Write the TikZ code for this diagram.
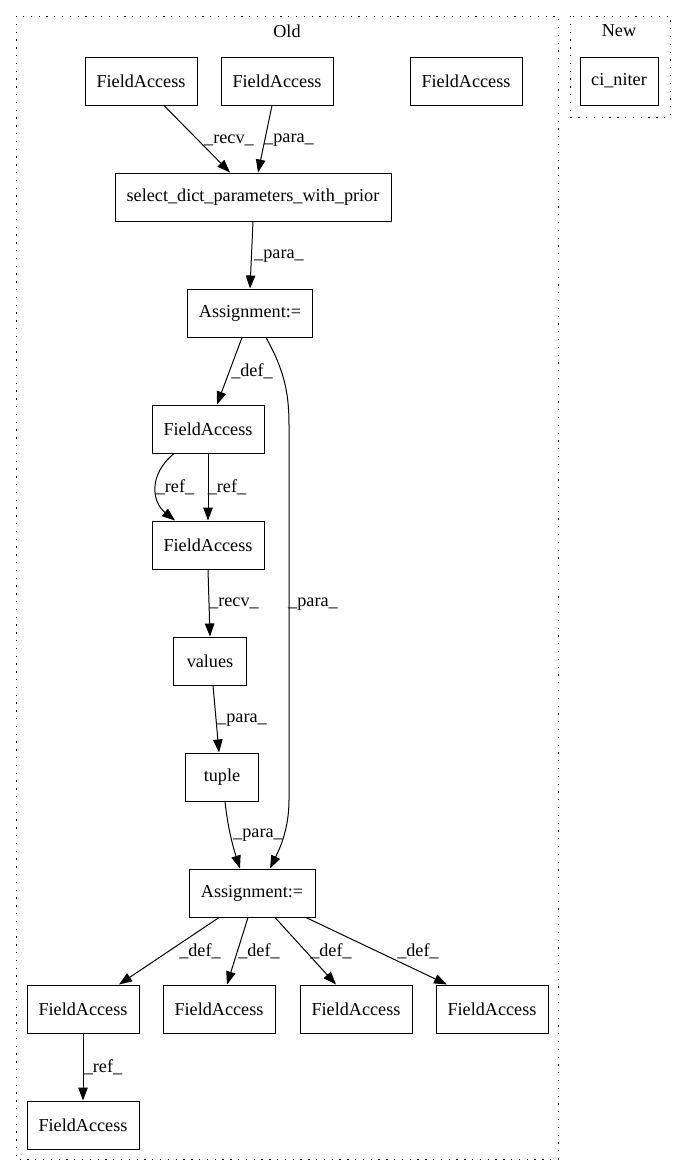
\documentclass[tikz,border=0pt]{standalone}
\usepackage{fontspec}
\setmainfont{Liberation Serif}
\usetikzlibrary{arrows.meta,calc}
\begin{document}
\begin{tikzpicture}[x=1pt,y=-1pt,
  font=\fontsize{18.2}{22}\selectfont,
  box/.style={draw,line width=1pt,inner sep=0pt,minimum height=48pt},
  fa/.style={box,minimum width=112pt},
  edge/.style={draw,line width=1pt,-{Triangle[length=13pt,width=9.5pt]}},
  lbl/.style={inner sep=0pt,anchor=center},
  clus/.style={draw,line width=1pt,dash pattern=on 1.3pt off 6.5pt}
]
\useasboundingbox (0,0) rectangle (679,1176);
% clusters
\draw[clus] (16,16) rectangle (558,1159);
\draw[clus] (570,16) rectangle (670,117);
\node[lbl] (told) at (287,31) {Old};
\node[lbl] (tnew) at (619,31) {New};
% nodes
\node[fa] (fa1) at (141,81) {FieldAccess};
\node[fa] (fa2) at (277,81) {FieldAccess};
\node[fa] (fa3) at (466,81) {FieldAccess};
\node[box,minimum width=78pt] (ci) at (619,81) {ci\_niter};
\node[box,minimum width=276pt] (sel) at (253,197) {select\_dict\_parameters\_with\_prior};
\node[box,minimum width=125pt] (as1) at (250,313) {Assignment:=};
\node[fa] (fm1) at (208,429) {FieldAccess};
\node[fa] (fm2) at (208,545) {FieldAccess};
\node[box,minimum width=73pt] (val) at (210,661) {values};
\node[box,minimum width=73pt] (tup) at (222,777) {tuple};
\node[box,minimum width=126pt] (as2) at (252,893) {Assignment:=};
\node[fa] (b1) at (83,1009) {FieldAccess};
\node[fa] (b2) at (219,1009) {FieldAccess};
\node[fa] (b3) at (356,1009) {FieldAccess};
\node[fa] (b4) at (492,1009) {FieldAccess};
\node[fa] (b5) at (83,1125) {FieldAccess};
% edges
\draw[edge] ($(fa1.south)+(23,0)$) -- ($(sel.north)+(-23,0)$);
\draw[edge] ($(fa2.south)+(-5,0)$) -- ($(sel.north)+(5,0)$);
\draw[edge] (sel.south) -- (as1.north);
\draw[edge] ($(as1.south)+(-8,0)$) -- ($(fm1.north)+(9,0)$);
\draw[edge] ($(fm1.south)+(-34,0)$) .. controls (148,475) and (152,502) .. ($(fm2.north)+(-33,0)$);
\draw[edge] (fm1.south) -- (fm2.north);
\draw[edge] ($(as1.south)+(16,0)$) .. controls (284,370) and (289,392) .. (289,425) -- (289,800) .. controls (289,830) and (279,850) .. ($(as2.north)+(18,0)$);
\draw[edge] (fm2.south) -- (val.north);
\draw[edge] ($(val.south)+(3,0)$) -- ($(tup.north)+(-3,0)$);
\draw[edge] ($(tup.south)+(3,0)$) .. controls (228,830) and (234,850) .. ($(as2.north)+(-12,0)$);
\draw[edge] ($(as2.south)+(-33,0)$) -- ($(b1.north)+(36,0)$);
\draw[edge] ($(as2.south)+(-4,0)$) -- ($(b2.north)+(8,0)$);
\draw[edge] ($(as2.south)+(23,0)$) -- ($(b3.north)+(-20,0)$);
\draw[edge] ($(as2.south)+(54,0)$) -- ($(b4.north)+(-45,0)$);
\draw[edge] (b1.south) -- (b5.north);
% edge labels
\node[lbl] (l1) at (229,140) {\_recv\_};
\node[lbl] (l2) at (289,140) {\_para\_};
\node[lbl] (l3) at (279,256) {\_para\_};
\node[lbl] (l4) at (252,371) {\_def\_};
\node[lbl] (l5) at (175,487) {\_ref\_};
\node[lbl] (l6) at (227,487) {\_ref\_};
\node[lbl] (l7) at (313,604) {\_para\_};
\node[lbl] (l8) at (234,603) {\_recv\_};
\node[lbl] (l9) at (242,720) {\_para\_};
\node[lbl] (l10) at (258,835) {\_para\_};
\node[lbl] (l11) at (200,951) {\_def\_};
\node[lbl] (l12) at (259,951) {\_def\_};
\node[lbl] (l13) at (331,951) {\_def\_};
\node[lbl] (l14) at (418,951) {\_def\_};
\node[lbl] (l15) at (103,1067) {\_ref\_};
\end{tikzpicture}
\end{document}
